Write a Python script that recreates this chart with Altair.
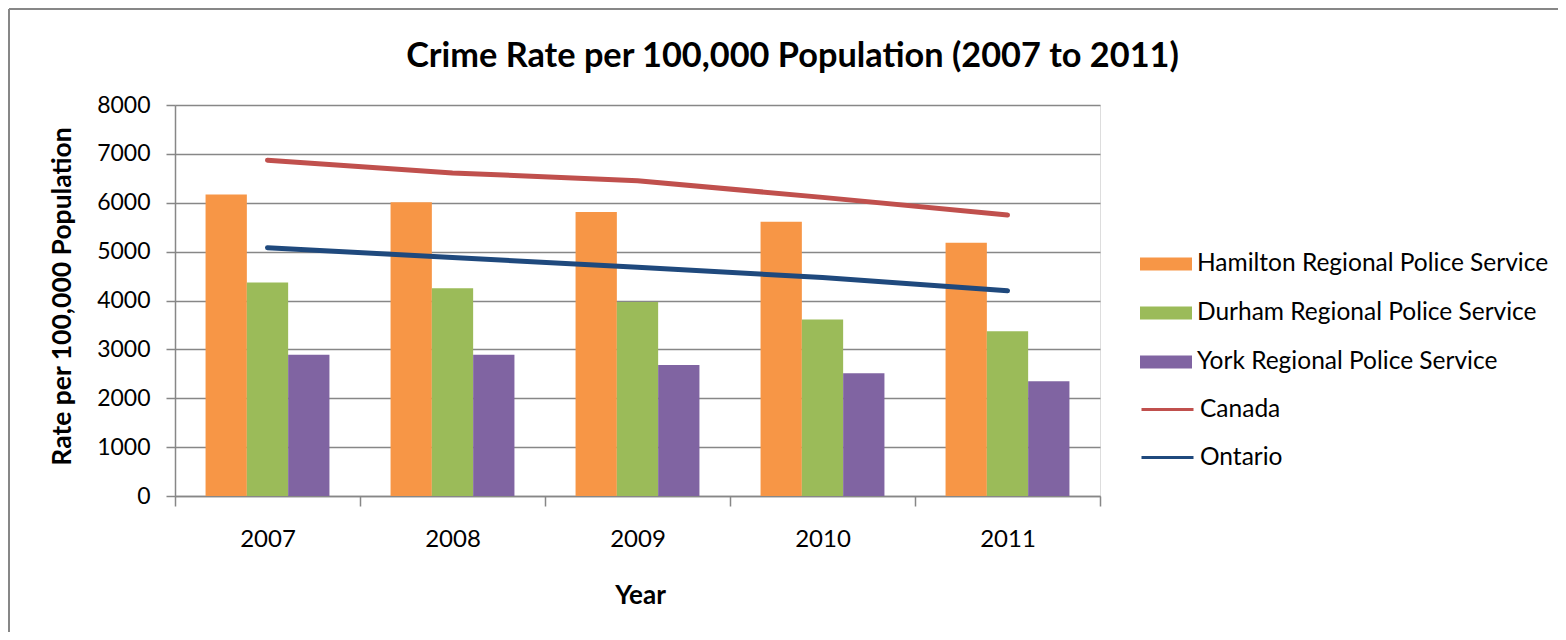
import altair as alt
import pandas as pd

years = ["2007", "2008", "2009", "2010", "2011"]
bar_series = ["Hamilton Regional Police Service", "Durham Regional Police Service", "York Regional Police Service"]
line_series = ["Canada", "Ontario"]

hamilton = [6170, 6010, 5810, 5610, 5180]
durham = [4370, 4250, 3970, 3610, 3370]
york = [2890, 2890, 2680, 2510, 2350]
canada = [6870, 6610, 6450, 6110, 5750]
ontario = [5080, 4880, 4680, 4470, 4200]

bar_colors = ["#F79646", "#9BBB59", "#8064A2"]
line_colors = ["#C0504D", "#1F497D"]

bars_df = pd.DataFrame(
    [{"Year": y, "Series": s, "Rate": v}
     for s, vals in zip(bar_series, [hamilton, durham, york])
     for y, v in zip(years, vals)]
)
lines_df = pd.DataFrame(
    [{"Year": y, "Series": s, "Rate": v}
     for s, vals in zip(line_series, [canada, ontario])
     for y, v in zip(years, vals)]
)

FONT = "Lato"
GRAY = "#878787"

x_enc = alt.X(
    "Year:N",
    sort=years,
    scale=alt.Scale(paddingInner=0, paddingOuter=0),
    axis=alt.Axis(
        title="Year",
        tickBand="extent",
        grid=False,
        labelAngle=0,
        labelFontSize=24,
        labelFont=FONT,
        labelColor="#000000",
        labelBaseline="top",
        labelPadding=21,
        tickSize=10,
        tickColor=GRAY,
        tickWidth=1.5,
        domainColor=GRAY,
        domainWidth=1.5,
        titleFont=FONT,
        titleFontSize=26,
        titleFontWeight="bold",
        titleColor="#000000",
        titleX=465,
        titleY=99,
        titleBaseline="middle",
    ),
)

y_enc = alt.Y(
    "Rate:Q",
    scale=alt.Scale(domain=[0, 8000], nice=False),
    axis=alt.Axis(
        title="Rate per 100,000  Population",
        values=[0, 1000, 2000, 3000, 4000, 5000, 6000, 7000, 8000],
        format="d",
        grid=True,
        gridColor=GRAY,
        gridWidth=1.5,
        labelFontSize=23,
        labelFont=FONT,
        labelColor="#000000",
        labelPadding=16,
        tickSize=9,
        tickColor=GRAY,
        tickWidth=1.5,
        domainColor=GRAY,
        domainWidth=1.5,
        titleFont=FONT,
        titleFontSize=26.5,
        titleFontWeight="bold",
        titleColor="#000000",
        titleX=-113,
        titleY=191,
        titleBaseline="middle",
        titleAngle=270,
    ),
)

bars = alt.Chart(bars_df).mark_bar().encode(
    x=x_enc,
    y=y_enc,
    xOffset=alt.XOffset("Series:N", sort=bar_series,
                        scale=alt.Scale(paddingInner=0, paddingOuter=0.74)),
    color=alt.Color(
        "Series:N",
        sort=bar_series,
        scale=alt.Scale(domain=bar_series, range=bar_colors),
        legend=alt.Legend(
            title=None,
            orient="none",
            legendX=978,
            legendY=146,
            symbolType="M-2,-0.5H2V0.5H-2Z",
            symbolSize=676,
            symbolStrokeWidth=0,
            symbolOpacity=1,
            labelFont=FONT,
            labelFontSize=24.5,
            labelColor="#000000",
            labelOffset=18,
            labelLimit=500,
            rowPadding=24,
            padding=0,
        ),
    ),
)

lines = alt.Chart(lines_df).mark_line(strokeWidth=5, strokeCap="round", strokeJoin="round").encode(
    x=alt.X("Year:N", sort=years),
    y=alt.Y("Rate:Q"),
    color=alt.Color(
        "Series:N",
        sort=line_series,
        scale=alt.Scale(domain=line_series, range=line_colors),
        legend=alt.Legend(
            title=None,
            orient="none",
            legendX=978,
            legendY=290,
            symbolType="M-2,0H2",
            symbolSize=676,
            symbolStrokeWidth=3,
            symbolOpacity=1,
            labelFont=FONT,
            labelFontSize=24.5,
            labelColor="#000000",
            labelOffset=18,
            labelLimit=500,
            rowPadding=22,
            padding=0,
        ),
    ),
)

frame_df = pd.DataFrame({"k": [0]})
left_edge = alt.Chart(frame_df).mark_rule(stroke=GRAY, strokeWidth=2).encode(
    x=alt.value(-166), y=alt.value(-96), y2=alt.value(527)
)
top_edge = alt.Chart(frame_df).mark_rule(stroke=GRAY, strokeWidth=2).encode(
    x=alt.value(-166), x2=alt.value(1383), y=alt.value(-96)
)

chart = alt.layer(left_edge, top_edge, bars, lines).resolve_scale(color="independent").properties(
    width=925,
    height=391,
    autosize=alt.AutoSizeParams(type="none"),
    padding={"left": 167, "top": 97, "right": 458, "bottom": 136},
    title=alt.TitleParams(
        "Crime Rate per 100,000 Population (2007 to 2011)",
        font=FONT,
        fontSize=34.3,
        fontWeight="bold",
        color="#000000",
        anchor="middle",
        frame="group",
        baseline="middle",
        dx=155,
        dy=103,
        offset=20,
    ),
).configure_view(stroke=None).configure(background="white")

chart.save("out.html", embed_options={"renderer": "svg", "actions": False})
